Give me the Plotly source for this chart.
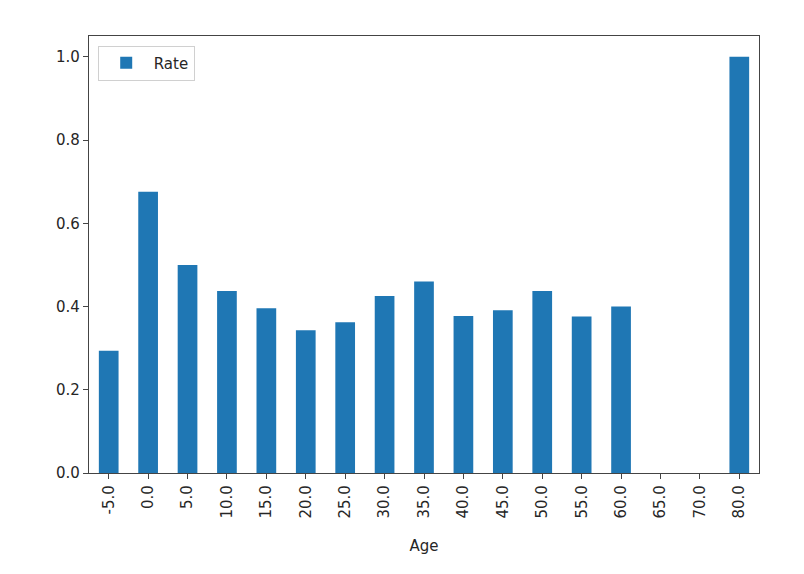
import plotly.graph_objects as go

ages = ["-5.0", "0.0", "5.0", "10.0", "15.0", "20.0", "25.0", "30.0", "35.0",
        "40.0", "45.0", "50.0", "55.0", "60.0", "65.0", "70.0", "80.0"]
rate = [0.294, 0.676, 0.5, 0.4375, 0.396, 0.343, 0.3625, 0.425, 0.46,
        0.377, 0.391, 0.4375, 0.376, 0.4, 0.0, 0.0, 1.0]
ytick_vals = [0.0, 0.2, 0.4, 0.6, 0.8, 1.0]
ytick_text = ["0.0", "0.2", "0.4", "0.6", "0.8", "1.0"]

fig = go.Figure()
fig.add_trace(go.Bar(x=ages, y=rate, name="Rate", marker_color="#1f77b4",
                     marker_line_width=0, showlegend=True))

axis_common = dict(showline=True, linecolor="#444", linewidth=1.2, mirror=True,
                   ticks="outside", ticklen=5, tickcolor="#444", showgrid=False,
                   zeroline=False,
                   tickfont=dict(family="DejaVu Sans", size=15, color="#262626"))

fig.update_layout(
    width=796, height=566,
    margin=dict(l=81, r=45, t=28, b=101),
    paper_bgcolor="white", plot_bgcolor="white",
    bargap=0.5,
    showlegend=True,
    legend=dict(x=0.013, y=0.978, xanchor="left", yanchor="top",
                bordercolor="#d0d0d0", borderwidth=1, bgcolor="white",
                itemwidth=45,
                font=dict(family="DejaVu Sans", size=15, color="#262626")),
    xaxis=dict(type="category", range=[-0.5, 16.5], tickangle=-90,
               title=dict(text="Age", font=dict(family="DejaVu Sans", size=15, color="#262626"), standoff=22),
               **axis_common),
    yaxis=dict(range=[0, 1.05], tickvals=ytick_vals, ticktext=ytick_text,
               **axis_common),
)

fig.write_html("out.html")
